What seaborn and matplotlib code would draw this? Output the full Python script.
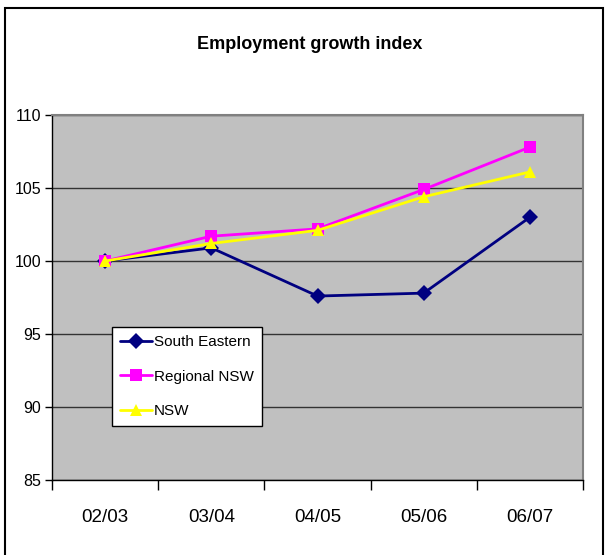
import numpy as np
import pandas as pd
import matplotlib
matplotlib.use('Agg')
import matplotlib.pyplot as plt
import seaborn as sns
from matplotlib.patches import Rectangle
from matplotlib.ticker import FixedLocator, NullFormatter

periods = ['02/03', '03/04', '04/05', '05/06', '06/07']
south_eastern = [100.0, 100.9, 97.6, 97.8, 103.0]
regional_nsw = [100.0, 101.7, 102.2, 104.9, 107.8]
nsw = [100.0, 101.2, 102.1, 104.4, 106.1]
series_names = ['South Eastern', 'Regional NSW', 'NSW']
y_ticks = [85, 90, 95, 100, 105, 110]

df = pd.DataFrame({
    'period': periods * 3,
    'index': south_eastern + regional_nsw + nsw,
    'series': [s for s in series_names for _ in periods],
})

sns.set_style('white')
plt.rcParams['font.family'] = ['Liberation Sans', 'DejaVu Sans']
plt.rcParams['text.color'] = 'black'
plt.rcParams['xtick.color'] = 'black'
plt.rcParams['ytick.color'] = 'black'

fig = plt.figure(figsize=(6.07, 5.55), dpi=100)
ax = fig.add_axes([0.0857, 0.1351, 0.8748, 0.6577])
ax.set_facecolor('#C0C0C0')

palette = {'South Eastern': '#000080', 'Regional NSW': '#FF00FF', 'NSW': '#FFFF00'}
markers = {'South Eastern': 'D', 'Regional NSW': 's', 'NSW': '^'}
sns.lineplot(data=df, x='period', y='index', hue='series', style='series',
             palette=palette, markers=markers, dashes=False, sort=False,
             linewidth=2, markersize=8.5, markeredgewidth=0, ax=ax, zorder=3)

ax.set_ylim(85, 110)
ax.set_yticks(y_ticks)
ax.set_xlim(-0.5, 4.5)
ax.xaxis.set_major_locator(FixedLocator(np.arange(-0.5, 5.0, 1.0)))
ax.xaxis.set_major_formatter(NullFormatter())
ax.xaxis.set_minor_locator(FixedLocator(np.arange(0, 5)))
ax.set_xticklabels(periods, minor=True)
ax.tick_params(axis='x', which='major', direction='out', length=7, width=1, color='black', bottom=True)
ax.tick_params(axis='x', which='minor', length=0, pad=21, labelsize=13.5)
ax.tick_params(axis='y', direction='out', length=5, width=1, color='black', left=True, labelsize=11.5, pad=3)
ax.set_xlabel('')
ax.set_ylabel('')

ax.grid(axis='y', color='#333333', linewidth=1)
ax.set_axisbelow(True)
for side in ['left', 'bottom']:
    ax.spines[side].set_color('black')
    ax.spines[side].set_linewidth(1)
for side in ['top', 'right']:
    ax.spines[side].set_color('#808080')
    ax.spines[side].set_linewidth(1.5)

leg = ax.legend(loc='lower left', bbox_to_anchor=(0.113, 0.148), fontsize=11,
                frameon=True, fancybox=False, edgecolor='black', framealpha=1,
                handlelength=2.1, handletextpad=0.15, borderpad=0.5, labelspacing=1.35,
                borderaxespad=0)
leg.get_frame().set_linewidth(1)

fig.text(0.51, 0.919, 'Employment growth index', ha='center', va='center',
         fontsize=13, fontweight='bold', color='black')

fig.patches.append(Rectangle((0.008, -0.1), 0.985, 1.086, transform=fig.transFigure,
                             fill=False, edgecolor='black', linewidth=1.5))

plt.savefig('out.png', dpi=100)
